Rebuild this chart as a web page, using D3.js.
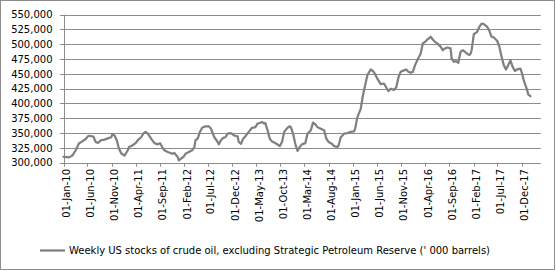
<!DOCTYPE html>
<html>
<head>
<meta charset="utf-8">
<script src="https://cdn.jsdelivr.net/npm/d3@7/dist/d3.min.js"></script>
<style>
  html, body { margin: 0; padding: 0; background: #fff; }
  svg { display: block; }
  text { font-family: "DejaVu Sans", sans-serif; fill: #000; }
</style>
</head>
<body>
<svg id="chart" width="556" height="271"></svg>
<script>
// ---- data ----
const seriesName = "Weekly US stocks of crude oil, excluding Strategic Petroleum Reserve (' 000 barrels)";
const startDate = "2010-01-01";
// weeks since startDate
const weeks = [0,3,5,8,11,14,17,20,22,23,27,29,31,34,37,40,43,44,46,48,50,52,55,58,59,62,65,67,70,72,74,76,79,82,85,87,89,91,94,97,98,100,101,103,104,106,108,110,113,116,118,119,121,123,125,128,131,133,134,136,139,140,142,144,146,148,151,154,157,158,160,162,164,167,170,173,175,177,179,181,182,184,186,188,190,192,195,197,199,202,204,205,207,209,211,213,215,218,220,223,225,227,229,232,235,237,239,242,244,247,248,250,253,256,259,262,263,265,268,270,272,274,277,279,281,283,286,289,291,293,295,298,300,302,304,307,309,311,313,315,317,319,322,324,326,328,331,333,335,337,340,342,344,346,349,350,352,354,356,358,360,362,364,366,367,368,370,373,375,377,379,382,384,386,388,391,393,395,397,399,401,403,405,407,409,412,413,415,418,419,421];
const stocks = [310000,309500,309000,312000,321000,333000,336000,340000,344500,345500,344000,335000,333500,338000,339000,341000,343000,348000,346000,338000,324000,316000,312000,321000,326500,329000,333000,338000,343000,349000,352000,349000,340600,333000,331000,333000,326500,321000,318000,316000,315000,316500,314000,309600,304000,307000,309600,315000,318000,321000,326500,338000,340600,352000,359000,361500,361500,357500,352000,343000,335000,331000,338000,342000,343000,349000,350000,346000,344600,335000,332000,340600,344600,352000,359000,360000,366000,367000,368800,366000,367000,354700,340600,336000,334000,332000,328000,335000,352000,359000,361500,360000,349000,332000,319700,326500,331000,333000,349000,354700,367700,365000,360000,357500,354700,340600,335000,332000,328000,326500,329000,343000,349000,350000,352000,353000,357500,377000,391000,414000,431000,448000,457500,455000,449500,442000,432600,433700,427000,421000,425000,423000,427000,444000,453500,456000,457500,453500,451800,453500,464800,473000,484000,501500,504000,508000,512700,508000,504000,501500,496000,490000,493000,494600,493000,476000,470500,471500,468700,487000,490000,487000,484000,481700,484000,490000,517000,521000,529600,535000,534000,529600,522800,512700,511600,506000,496000,479000,464800,457500,464800,473000,462000,455000,457500,459000,453500,439600,423000,415500,412300];
const yTicks = [300000,325000,350000,375000,400000,425000,450000,475000,500000,525000,550000];
const xTickLabels = ["01-Jan-10","01-Jun-10","01-Nov-10","01-Apr-11","01-Sep-11","01-Feb-12","01-Jul-12","01-Dec-12","01-May-13","01-Oct-13","01-Mar-14","01-Aug-14","01-Jan-15","01-Jun-15","01-Nov-15","01-Apr-16","01-Sep-16","01-Feb-17","01-Jul-17","01-Dec-17"];
const xDomain = ["2010-01-01", "2018-04-01"];

// ---- layout ----
const svg = d3.select("#chart");
const W = 556, H = 271;
const plot = { left: 63.5, right: 540.7, top: 14.7, bottom: 162.7 };

const parse = d3.utcParse("%Y-%m-%d");
const parseTick = d3.utcParse("%d-%b-%y");
const start = parse(startDate);
const data = weeks.map((w, i) => ({ date: d3.utcDay.offset(start, w * 7), value: stocks[i] }));

const x = d3.scaleUtc().domain(xDomain.map(parse)).range([plot.left, plot.right]);
const y = d3.scaleLinear().domain([300000, 550000]).range([plot.bottom, plot.top]);

// chart border
svg.append("rect").attr("x", 0.5).attr("y", 0.5).attr("width", W - 2).attr("height", H - 2)
  .attr("fill", "#fff").attr("stroke", "#8c8c8c").attr("stroke-width", 1);

// gridlines
svg.append("g").selectAll("line").data(yTicks).join("line")
  .attr("x1", plot.left - 3.5).attr("x2", plot.right)
  .attr("y1", d => Math.round(y(d)) + 0.5).attr("y2", d => Math.round(y(d)) + 0.5)
  .attr("stroke", "#8c8c8c").attr("stroke-width", 1);

// y axis line
svg.append("line").attr("x1", Math.round(plot.left) + 0.5).attr("x2", Math.round(plot.left) + 0.5)
  .attr("y1", y(550000)).attr("y2", Math.round(plot.bottom) + 0.5)
  .attr("stroke", "#8c8c8c");

// y labels
svg.append("g").selectAll("text").data(yTicks).join("text")
  .attr("x", 52.5).attr("y", d => y(d)).attr("dy", "0.36em")
  .attr("text-anchor", "end").style("font-size", "10px")
  .text(d => d3.format(",")(d));

// x ticks
const xTicks = xTickLabels.map(s => parseTick(s));
svg.append("g").selectAll("line").data(xTicks).join("line")
  .attr("x1", d => Math.round(x(d)) + 0.5).attr("x2", d => Math.round(x(d)) + 0.5)
  .attr("y1", Math.round(plot.bottom) + 0.5).attr("y2", plot.bottom + 4)
  .attr("stroke", "#8c8c8c");

svg.append("g").selectAll("text").data(xTicks).join("text")
  .attr("transform", d => `translate(${x(d) + 6.5},169) rotate(-90)`)
  .attr("text-anchor", "end").style("font-size", "10px")
  .text((d, i) => xTickLabels[i]);

// series line
svg.append("path").datum(data)
  .attr("fill", "none").attr("stroke", "#808080").attr("stroke-width", 2.25)
  .attr("stroke-linejoin", "round").attr("stroke-linecap", "round")
  .attr("d", d3.line().x(d => x(d.date)).y(d => y(d.value)));

// legend
svg.append("line").attr("x1", 40).attr("x2", 65).attr("y1", 250.5).attr("y2", 250.5)
  .attr("stroke", "#808080").attr("stroke-width", 2.25);
svg.append("text").attr("x", 69).attr("y", 250.5).attr("dy", "0.36em")
  .style("font-size", "10px").text(seriesName);
</script>
</body>
</html>
